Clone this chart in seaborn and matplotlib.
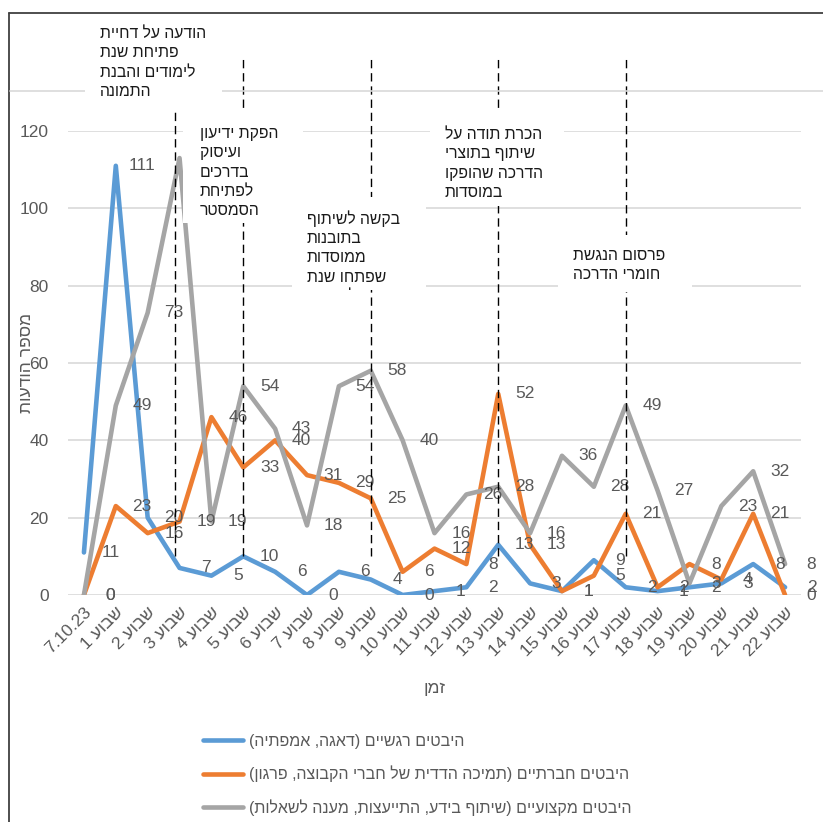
import re
import matplotlib
matplotlib.use("Agg")
import matplotlib.pyplot as plt
import pandas as pd
import seaborn as sns
from matplotlib.patches import Rectangle
from matplotlib.lines import Line2D

# ---- data ---------------------------------------------------------------
periods = ["7.10.23", "שבוע 1", "שבוע 2", "שבוע 3", "שבוע 4", "שבוע 5",
           "שבוע 6", "שבוע 7", "שבוע 8", "שבוע 9", "שבוע 10", "שבוע 11",
           "שבוע 12", "שבוע 13", "שבוע 14", "שבוע 15", "שבוע 16", "שבוע 17",
           "שבוע 18", "שבוע 19", "שבוע 20", "שבוע 21", "שבוע 22"]
emotional = [11, 111, 20, 7, 5, 10, 6, 0, 6, 4, 0, 1, 2, 13, 3, 1, 9, 2, 1, 2, 3, 8, 2]
social = [0, 23, 16, 19, 46, 33, 40, 31, 29, 25, 6, 12, 8, 52, 13, 1, 5, 21, 2, 8, 4, 21, 0]
professional = [0, 49, 73, 113, 19, 54, 43, 18, 54, 58, 40, 16, 26, 28, 16, 36, 28, 49,
                27, 3, 23, 32, 8]
series_names = [
    "היבטים רגשיים (דאגה, אמפתיה)",
    "היבטים חברתיים (תמיכה הדדית של חברי הקבוצה, פרגון)",
    "היבטים מקצועיים (שיתוף בידע, התייעצות, מענה לשאלות)",
]
series_colors = ["#5B9BD5", "#ED7D31", "#A5A5A5"]
y_label = "מספר הודעות"
x_label = "זמן"

# event notes: (week position, text)
events = [
    (2.87, "הודעה על דחיית\nפתיחת שנת\nלימודים והבנת\nהתמונה"),
    (5, "הפקת ידיעון\nועיסוק\nבדרכים\nלפתיחת\nהסמסטר"),
    (9, "בקשה לשיתוף\nבתובנות\nממוסדות\nשפתחו שנת\nלימודים"),
    (13, "הכרת תודה על\nשיתוף בתוצרי\nהדרכה שהופקו\nבמוסדות"),
    (17, "פרסום הנגשת\nחומרי הדרכה"),
]


def rtl(text):
    """Visual (left-to-right) order of a right-to-left line."""
    if not re.search(r"[\u0590-\u05FF]", text):
        return text
    out = []
    for line in text.split("\n"):
        tokens = re.findall(r"[0-9][0-9.]*|.", line)
        vis = []
        for t in reversed(tokens):
            vis.append({"(": ")", ")": "("}.get(t, t))
        out.append("".join(vis))
    return "\n".join(out)


df = pd.DataFrame({
    "period": periods * 3,
    "count": emotional + social + professional,
    "series": [series_names[0]] * len(periods) + [series_names[1]] * len(periods)
              + [series_names[2]] * len(periods),
})

# ---- figure -------------------------------------------------------------
W, H = 823, 822
sns.set_theme(style="white")
plt.rcParams["font.family"] = ["Liberation Sans", "DejaVu Sans"]

fig = plt.figure(figsize=(W / 100, H / 100), dpi=100)
fig.patch.set_facecolor("white")


def fx(x):
    return x / W


def fy(y):
    return 1 - y / H


ax = fig.add_axes([fx(68), fy(595), (801 - 68) / W, (595 - 131) / H])

sns.lineplot(data=df, x="period", y="count", hue="series", hue_order=series_names,
             palette=series_colors, sort=False, linewidth=3.3, ax=ax, zorder=3)

handles, labels = ax.get_legend_handles_labels()
ax.get_legend().remove()

ax.set_xlim(-0.5, len(periods) - 0.5)
ax.set_ylim(0, 120)
ax.set_yticks(range(0, 121, 20))
ax.grid(axis="y", color="#D9D9D9", linewidth=1.2)
ax.grid(axis="x", visible=False)
for s in ax.spines.values():
    s.set_visible(False)
ax.tick_params(axis="both", length=0, colors="#595959", labelsize=12.5)
ax.tick_params(axis="y", pad=14)
ax.set_xticks(range(len(periods)))
ax.set_xticklabels([rtl(p) for p in periods], rotation=45, ha="right",
                   rotation_mode="anchor", color="#595959")
ax.tick_params(axis="x", pad=7)

ax.set_xlabel(rtl(x_label), fontsize=12.5, color="#595959")
ax.xaxis.set_label_coords(0.5, -0.186)
ax.set_ylabel(rtl(y_label), fontsize=12.5, color="#595959")
ax.yaxis.set_label_coords(-0.046, 0.5)

# value labels beside each point
for values in (emotional, social, professional):
    for i, v in enumerate(values):
        ax.annotate(str(v), (i, v), xytext=(19, 0), textcoords="offset points",
                    ha="center", va="center", fontsize=12.5, color="#595959",
                    zorder=5)

# dashed event markers
for k, (pos, _) in enumerate(events):
    top = 125 if k == 0 else 139
    ax.add_line(Line2D([pos, pos], [10, top], color="black", linewidth=1.0,
                       linestyle=(0, (6, 3.5)), clip_on=False, zorder=6))

# frame lines and the upper rule
fig.add_artist(Line2D([fx(9), fx(9)], [fy(13), 0], transform=fig.transFigure,
                      color="#404040", linewidth=1.3, zorder=4))
fig.add_artist(Line2D([fx(9), 1], [fy(13), fy(13)], transform=fig.transFigure,
                      color="#404040", linewidth=1.3, zorder=4))
fig.add_artist(Line2D([fx(10), 1], [fy(91), fy(91)], transform=fig.transFigure,
                      color="#D9D9D9", linewidth=1.2, zorder=4))

# white note boxes over the plot
boxes = [
    (85, 15, 222, 100, 100, 26),
    (183, 110, 303, 223, 200, 126),
    (292, 197, 426, 290, 307, 210),
    (430, 112, 564, 206, 445, 127),
    (558, 235, 692, 292, 573, 248),
]
for (x0, y0, x1, y1, tx, ty), (_, note) in zip(boxes, events):
    rect = Rectangle((fx(x0), fy(y1)), fx(x1 - x0), (y1 - y0) / H,
                     transform=fig.transFigure, facecolor="white",
                     edgecolor="none", zorder=10)
    fig.add_artist(rect)
    t = fig.text(fx(tx), fy(ty), rtl(note), ha="left", va="top",
                 multialignment="left", fontsize=11.3, color="#1A1A1A",
                 linespacing=1.36, zorder=11)
    t.set_clip_path(rect)
    t.set_clip_on(True)

# legend
fig.legend(handles, [rtl(l) for l in labels], loc="upper left",
           bbox_to_anchor=(fx(203), fy(734)), frameon=False, fontsize=11.5,
           labelcolor="#595959", handlelength=2.5, handletextpad=0.35,
           labelspacing=1.05, borderpad=0, borderaxespad=0)

fig.savefig("out.png", dpi=100, facecolor="white")
